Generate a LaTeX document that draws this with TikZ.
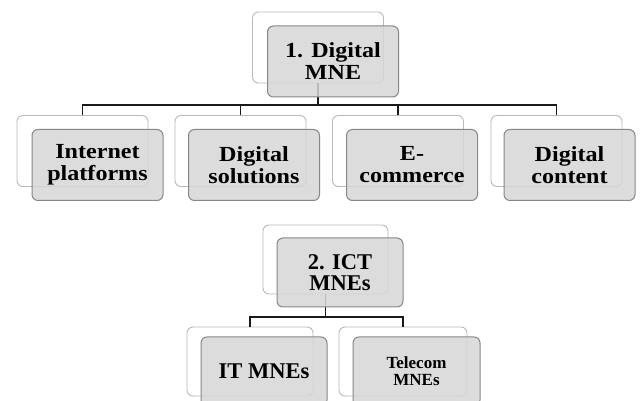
\documentclass[tikz,border=0pt]{standalone}
\usepackage{fontspec}
\setmainfont{Liberation Serif}
\newfontfamily\wideserif[FakeStretch=1.12]{Liberation Serif}
\definecolor{backline}{RGB}{185,185,185}
\definecolor{frontline}{RGB}{135,135,135}
\definecolor{frontfill}{RGB}{214,214,214}
\definecolor{conncol}{RGB}{25,25,25}
\tikzset{
  backbox/.style={draw=backline, fill=white, rounded corners=6pt, line width=0.9pt,
    minimum width=131pt, minimum height=71pt, inner sep=0pt},
  frontbox/.style={draw=frontline, fill=frontfill, fill opacity=0.85, text opacity=1,
    rounded corners=6pt, line width=1pt, minimum width=131pt, minimum height=71pt,
    inner sep=0pt, align=center},
  topfont/.style={font=\wideserif\bfseries\fontsize{21.5}{22}\selectfont},
  lowfont/.style={font=\bfseries\fontsize{22.5}{21}\selectfont},
  smallfont/.style={font=\bfseries\fontsize{17}{17}\selectfont},
  conn/.style={draw=conncol, line width=1.6pt}
}
\begin{document}
\begin{tikzpicture}[x=1pt,y=-1pt]
\clip (0,0) rectangle (641,401);
\fill[white] (0,0) rectangle (641,401);
% back boxes
\node[backbox] (tb) at (318,47.5) {};
\node[backbox] (b1b) at (82.5,151) {};
\node[backbox] (b2b) at (240.5,151) {};
\node[backbox] (b3b) at (398,151) {};
\node[backbox] (b4b) at (556.5,151) {};
\node[backbox, minimum width=125pt, minimum height=69pt] (ib) at (325.5,259.5) {};
\node[backbox, minimum width=126pt, minimum height=69pt] (c1b) at (250,361.5) {};
\node[backbox, minimum width=128pt, minimum height=69pt] (c2b) at (403,361.5) {};
% connectors
\coordinate (busA) at (318,105);
\draw[conn] (tb.south) -- (busA);
\draw[conn] (b1b.north) |- (busA);
\draw[conn] (b2b.north) |- (busA);
\draw[conn] (b3b.north) |- (busA);
\draw[conn] (b4b.north) |- (busA);
\coordinate (busB) at (325.5,317);
\draw[conn] (ib.south) -- (busB);
\draw[conn] (c1b.north) |- (busB);
\draw[conn] (c2b.north) |- (busB);
% front boxes
\node[frontbox, topfont] (tf) at (333,61.5) {1. Digital\\MNE};
\node[frontbox, topfont] (b1f) at (97.5,165) {Internet\\platforms};
\node[frontbox, topfont] (b2f) at (254,165) {Digital\\solutions};
\node[frontbox, topfont] (b3f) at (412,165) {E-\\commerce};
\node[frontbox, topfont] (b4f) at (569.5,165) {Digital\\content};
\node[frontbox, lowfont, minimum width=126pt, minimum height=69pt] (if) at (340,272.5) {2. ICT\\MNEs};
\node[frontbox, lowfont, minimum width=126pt, minimum height=69pt] (c1f) at (264,371.5) {IT MNEs};
\node[frontbox, smallfont, minimum width=127pt, minimum height=69pt] (c2f) at (416.5,371.5) {Telecom\\MNEs};
\end{tikzpicture}
\end{document}
